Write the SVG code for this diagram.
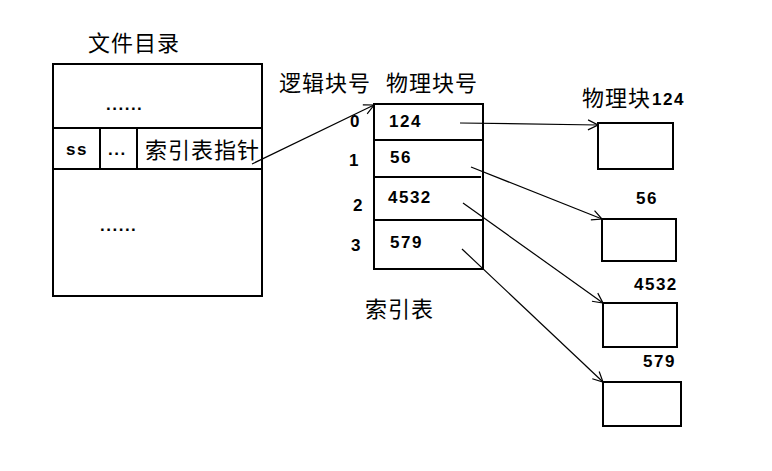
<svg xmlns="http://www.w3.org/2000/svg" width="772" height="471" viewBox="0 0 772 471">
<defs>
<style>
.box{fill:#fff;stroke:#000;stroke-width:2}
.ln{stroke:#000;stroke-width:2;fill:none}
.cn{stroke:#000;stroke-width:1.2;fill:none;marker-end:url(#ah)}
.zh{font-family:"Noto Sans CJK SC","Noto Sans",sans-serif;font-size:22px;letter-spacing:1px;fill:#000}
.num{font-family:"Liberation Sans",Arial,sans-serif;font-weight:bold;font-size:17px;letter-spacing:1.5px;fill:#000}
</style>
<marker id="ah" viewBox="0 0 12 12" refX="11" refY="6" markerWidth="12" markerHeight="12" markerUnits="userSpaceOnUse" orient="auto">
<path d="M1,1 L11,6 L1,11" fill="none" stroke="#000" stroke-width="1.2"/>
</marker>
</defs>
<rect width="772" height="471" fill="#fff"/>

<g id="file-directory">
<text class="zh" x="88" y="51">文件目录</text>
<rect class="box" x="53" y="64" width="209" height="232"/>
<line class="ln" x1="53" y1="128" x2="262" y2="128"/>
<line class="ln" x1="53" y1="169" x2="262" y2="169"/>
<line class="ln" x1="100" y1="128" x2="100" y2="169"/>
<line class="ln" x1="137" y1="128" x2="137" y2="169"/>
<text class="num" x="106" y="110" font-size="16" letter-spacing="0">......</text>
<text class="num" x="66" y="155" font-size="14" letter-spacing="1">ss</text>
<text class="num" x="108" y="155" font-size="16" letter-spacing="0">...</text>
<text class="zh" x="145" y="158">索引表指针</text>
<text class="num" x="100" y="231" font-size="16" letter-spacing="0">......</text>
</g>

<g id="index-table">
<text class="zh" x="279" y="91">逻辑块号</text>
<text class="zh" x="386" y="91">物理块号</text>
<rect class="box" x="374" y="104" width="109" height="165"/>
<line class="ln" x1="374" y1="140" x2="483" y2="140"/>
<line class="ln" x1="374" y1="177" x2="481" y2="177"/>
<line class="ln" x1="374" y1="220" x2="483" y2="220"/>
<text class="num" x="350" y="127">0</text>
<text class="num" x="349" y="166">1</text>
<text class="num" x="353" y="211">2</text>
<text class="num" x="351" y="251">3</text>
<text class="num" x="389" y="127">124</text>
<text class="num" x="390" y="163">56</text>
<text class="num" x="388" y="203">4532</text>
<text class="num" x="390" y="248">579</text>
<text class="zh" x="365" y="317">索引表</text>
</g>

<g id="block-124">
<text class="zh" x="582" y="106">物理块</text>
<text class="num" x="652" y="105">124</text>
<rect class="box" x="598" y="123" width="75" height="46"/>
</g>
<g id="block-56">
<text class="num" x="636" y="204">56</text>
<rect class="box" x="602" y="219" width="74" height="42"/>
</g>
<g id="block-4532">
<text class="num" x="634" y="290">4532</text>
<rect class="box" x="603" y="303" width="74" height="44"/>
</g>
<g id="block-579">
<text class="num" x="643" y="367">579</text>
<rect class="box" x="603" y="382" width="78" height="44"/>
</g>

<g id="connectors">
<path class="cn" d="M252,164 L374,105"/>
<path class="cn" d="M460,123 L598,125"/>
<path class="cn" d="M471,167 L602,219"/>
<path class="cn" d="M463,203 L603,303"/>
<path class="cn" d="M462,249 L603,382"/>
</g>
</svg>
